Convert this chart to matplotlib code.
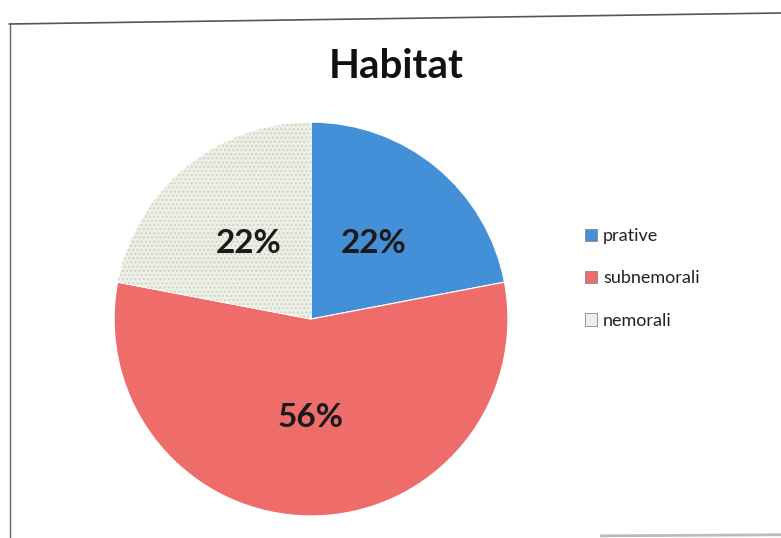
import matplotlib
matplotlib.use("Agg")
import matplotlib.pyplot as plt
from matplotlib.patches import Wedge, Patch
from matplotlib.lines import Line2D

categories = ["prative", "subnemorali", "nemorali"]
values = [22, 56, 22]
colors = ["#4390d9", "#ee6c6a", "#edf0e5"]
title = "Habitat"

plt.rcParams["font.family"] = ["Lato", "DejaVu Sans"]

fig = plt.figure(figsize=(7.81, 5.38), dpi=100)
fig.patch.set_facecolor("white")

# chart frame (slightly skewed top edge, as on the printed page)
fig.add_artist(Line2D([0.012, 1.0], [1 - 24 / 538, 1 - 13 / 538],
                      transform=fig.transFigure, color="#555555", lw=1.2))
fig.add_artist(Line2D([0.013, 0.013], [1 - 24 / 538, 0.0],
                      transform=fig.transFigure, color="#666666", lw=1.0))
fig.add_artist(Line2D([0.77, 1.0], [0.004, 0.006],
                      transform=fig.transFigure, color="#bbbbbb", lw=2.0))

fig.text(0.508, 1 - 66 / 538, title, ha="center", va="center",
         fontsize=29, fontweight="bold", color="#111111")

ax = fig.add_axes([0.146, 0.041, 0.5045, 0.732])
wedges, texts, autotexts = ax.pie(
    values, colors=colors, startangle=90, counterclock=False,
    autopct=lambda p: f"{p:.0f}%", pctdistance=0.5,
    wedgeprops=dict(edgecolor="white", linewidth=0.8),
    textprops=dict(fontsize=24, fontweight="bold", color="#1a1a1a"),
)
ax.set_xlim(-1.0, 1.0)
ax.set_ylim(-1.0, 1.0)
ax.set_aspect("equal")
ax.axis("off")

# speckled texture on the "nemorali" slice
w = wedges[2]
ax.add_patch(Wedge(w.center, w.r, w.theta1, w.theta2, fill=False,
                   hatch="....", edgecolor="#d0d3c6", linewidth=0))

handles = [Patch(facecolor=c, edgecolor="#888888", linewidth=0.6) for c in colors]
leg = fig.legend(handles, categories, loc="upper left",
                 bbox_to_anchor=(0.728, 1 - 212 / 538), frameon=False,
                 fontsize=13, handlelength=0.7, handleheight=0.7,
                 handletextpad=0.3, labelspacing=1.45)
for t in leg.get_texts():
    t.set_color("#222222")

fig.savefig("out.png", dpi=100, facecolor="white")
